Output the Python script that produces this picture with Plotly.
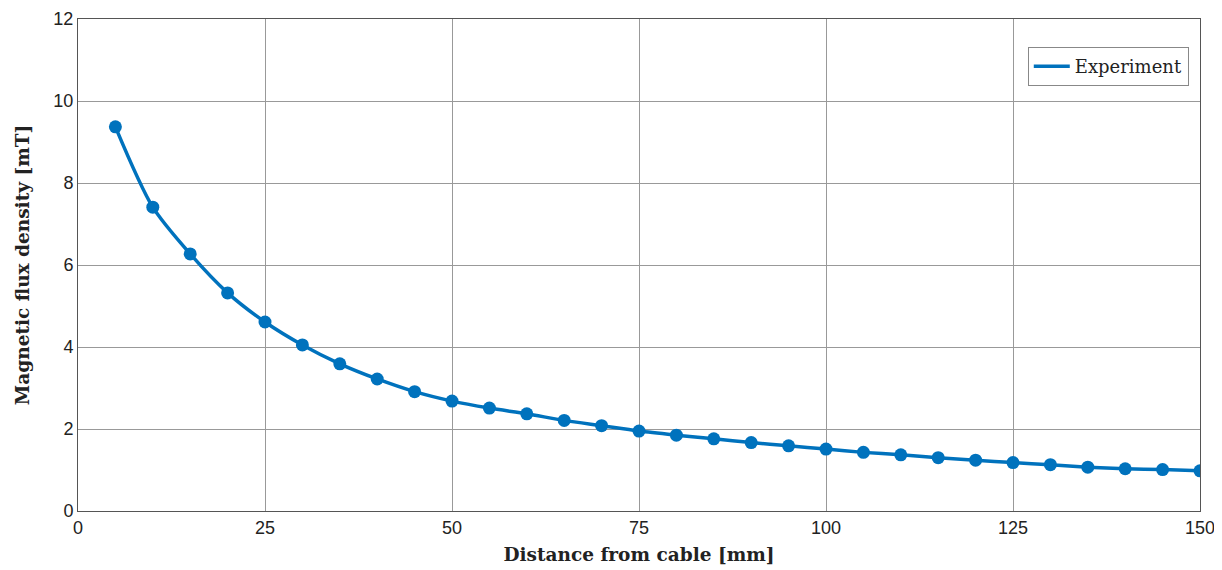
import plotly.graph_objects as go

distance_mm = [5, 10, 15, 20, 25, 30, 35, 40, 45, 50, 55, 60, 65, 70, 75,
               80, 85, 90, 95, 100, 105, 110, 115, 120, 125, 130, 135, 140, 145, 150]
flux_mT = [9.37, 7.41, 6.27, 5.32, 4.61, 4.05, 3.59, 3.22, 2.91, 2.68, 2.51, 2.37, 2.21, 2.08, 1.95,
           1.85, 1.76, 1.67, 1.59, 1.51, 1.43, 1.37, 1.30, 1.24, 1.18, 1.13, 1.07, 1.03, 1.01, 0.98]
x_ticks = [0, 25, 50, 75, 100, 125, 150]
y_ticks = [0, 2, 4, 6, 8, 10, 12]

blue = "#0072BD"
fig = go.Figure()
fig.add_trace(go.Scatter(x=distance_mm, y=flux_mT, mode="lines", name="Experiment",
                         line=dict(color=blue, width=3.5, shape="spline", smoothing=0.8)))
fig.add_trace(go.Scatter(x=distance_mm, y=flux_mT, mode="markers", showlegend=False,
                         marker=dict(color=blue, size=13)))

axis_common = dict(showline=True, linecolor="#555", linewidth=1, mirror=True,
                   showgrid=True, gridcolor="#999999", gridwidth=1, zeroline=False,
                   automargin=False, ticks="",
                   tickfont=dict(family="Liberation Sans, Arial", size=18, color="#222"))
fig.update_xaxes(range=[0, 150], tickvals=x_ticks, ticktext=[str(v) for v in x_ticks],
                 title=dict(text="<b>Distance from cable [mm]</b>",
                            font=dict(family="DejaVu Serif, Liberation Serif", size=18.5, color="#222"),
                            standoff=11),
                 **axis_common)
fig.update_yaxes(range=[0, 12], tickvals=y_ticks, ticktext=[str(v) for v in y_ticks],
                 title=dict(text="<b>Magnetic flux density [mT]</b>",
                            font=dict(family="DejaVu Serif, Liberation Serif", size=18.5, color="#222"),
                            standoff=18),
                 **axis_common)
fig.update_layout(
    width=1214, height=562,
    margin=dict(l=70, r=22, t=11, b=59),
    plot_bgcolor="white", paper_bgcolor="white",
    legend=dict(x=0.99, y=0.943, xanchor="right", yanchor="top",
                bordercolor="#888", borderwidth=1, bgcolor="white",
                font=dict(family="DejaVu Serif, Liberation Serif", size=18, color="#222"),
                itemwidth=36, tracegroupgap=0),
)
fig.write_html("out.html")
